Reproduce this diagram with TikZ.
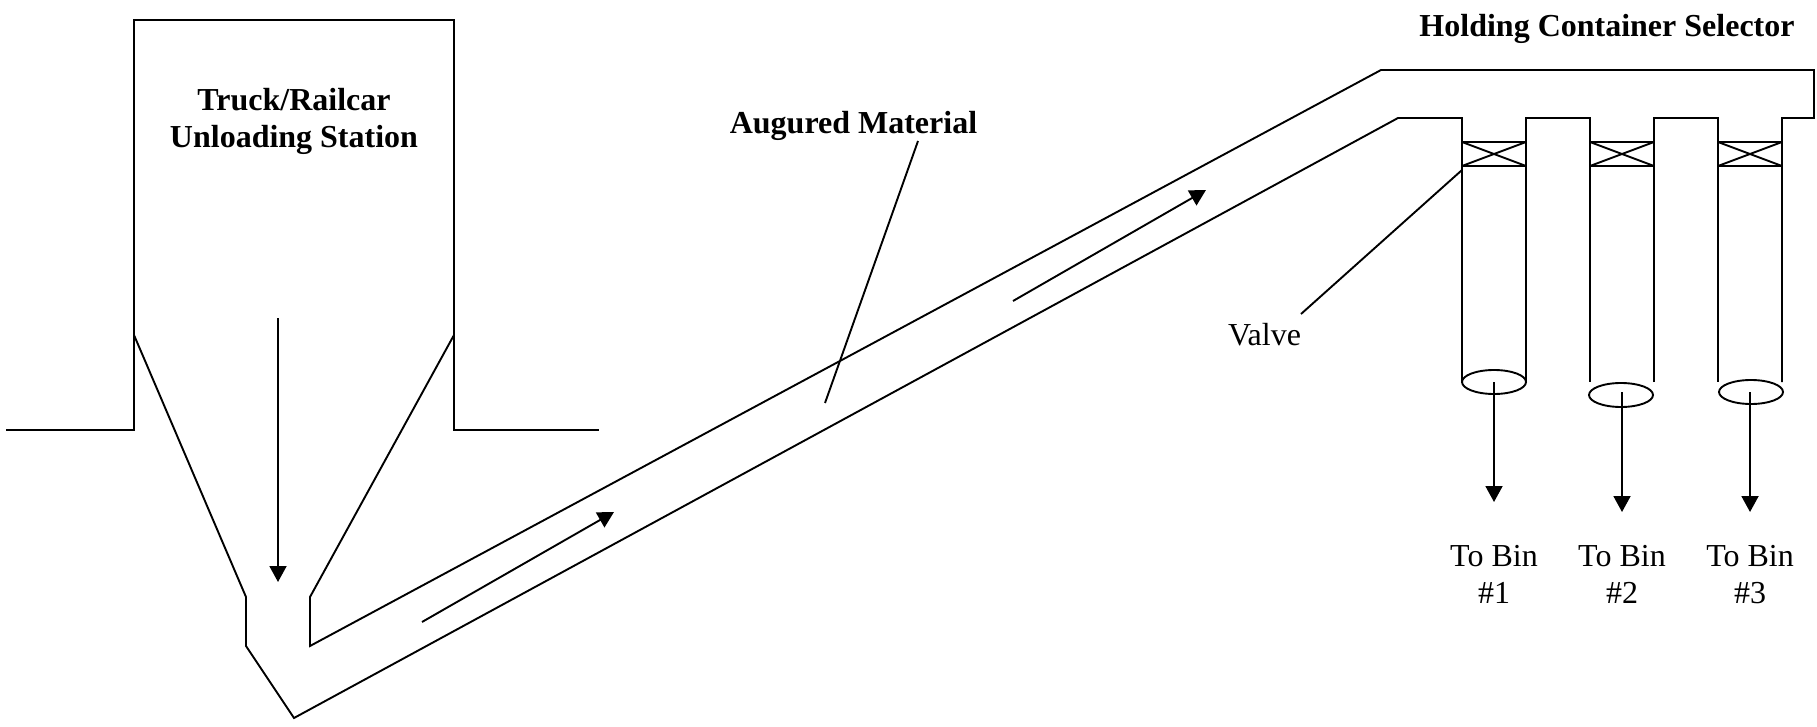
\documentclass[tikz,border=0pt]{standalone}
\usepackage{fontspec}
\setmainfont{Liberation Serif}
\usetikzlibrary{arrows.meta,shapes.geometric}
\tikzset{
  pipe/.style={line width=1.9pt, line join=miter, black},
  arrowline/.style={line width=1.9pt, -{Triangle[length=16pt,width=17pt]}},
  leader/.style={line width=1.9pt},
  boldlabel/.style={font=\fontsize{32}{37}\selectfont\bfseries, align=center, inner sep=0pt},
  pluslabel/.style={font=\fontsize{32}{37}\selectfont, align=center, inner sep=0pt},
  outlet/.style={draw, ellipse, line width=1.9pt, minimum width=64pt, minimum height=24pt, inner sep=0pt}
}
\begin{document}
\begin{tikzpicture}[x=1pt,y=-1pt]
\useasboundingbox (0,0) rectangle (1817,727);
% hopper
\draw[pipe] (6,430) -- (134,430) -- (134,20) -- (454,20) -- (454,430) -- (599,430);
\draw[pipe] (134,335) -- (246,597) -- (246,646) -- (294,718) -- (1398,118) -- (1462,118) -- (1462,382);
\draw[pipe] (454,335) -- (310,597) -- (310,646) -- (1381,70) -- (1814,70) -- (1814,118) -- (1782,118) -- (1782,382);
% branches
\draw[pipe] (1526,382) -- (1526,118) -- (1590,118) -- (1590,382);
\draw[pipe] (1654,382) -- (1654,118) -- (1718,118) -- (1718,382);
% valves
\foreach \a/\b in {1462/1526,1590/1654,1718/1782}{
  \draw[pipe] (\a,142) rectangle (\b,166);
  \draw[pipe] (\a,142) -- (\b,166) (\a,166) -- (\b,142);
}
% outlets
\node[outlet] (o1) at (1494,382) {};
\node[outlet] (o2) at (1621,395) {};
\node[outlet] (o3) at (1751,392) {};
% labels
\node[boldlabel] (truck) at (294,122) {\strut Truck/Railcar\\Unloading Station\strut};
\node[boldlabel,anchor=base] (aug) at (853.5,134) {Augured Material};
\node[boldlabel,anchor=base] (sel) at (1607,37) {Holding Container Selector};
\node[pluslabel,anchor=base] (valve) at (1264.5,345) {Valve};
\node[pluslabel] (b1) at (1494,577.5) {\strut To Bin\\\#1\strut};
\node[pluslabel] (b2) at (1622,577.5) {\strut To Bin\\\#2\strut};
\node[pluslabel] (b3) at (1750,577.5) {\strut To Bin\\\#3\strut};
% arrows
\coordinate (a1s) at (278,318); \coordinate (a1e) at (278,582);
\draw[arrowline] (a1s) -- (a1e);
\coordinate (a2s) at (422,622); \coordinate (a2e) at (614,512);
\draw[arrowline] (a2s) -- (a2e);
\coordinate (a3s) at (1013,301); \coordinate (a3e) at (1206,190);
\draw[arrowline] (a3s) -- (a3e);
\coordinate (t1) at (1494,502); \coordinate (t2) at (1622,512); \coordinate (t3) at (1750,512);
\draw[arrowline] (o1.center) -- (t1);
\draw[arrowline] (1622,392) -- (t2);
\draw[arrowline] (1750,392) -- (t3);
% leaders
\coordinate (l1) at (918,141); \coordinate (l2) at (825,403);
\draw[leader] (l1) -- (l2);
\coordinate (v1) at (1462,170); \coordinate (v2) at (1301,314);
\draw[leader] (v1) -- (v2);
\end{tikzpicture}
\end{document}
